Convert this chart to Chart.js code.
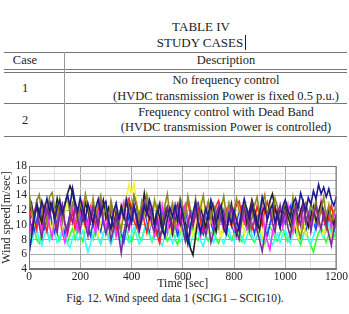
<!DOCTYPE html>
<html>
<head>
<meta charset="utf-8">
<script src="https://cdn.jsdelivr.net/npm/chart.js@4"></script>
<style>
    body { margin: 0; background: #fff; width: 349px; height: 314px; position: relative; overflow: hidden;
           font-family: 'Liberation Serif', 'DejaVu Serif', serif; color: #222; }
    .t { position: absolute; line-height: 14px; font-size: 12.5px; white-space: nowrap; }
    .c { transform: translateX(-50%); }
    .rule { position: absolute; left: 4px; width: 343px; height: 1px; background: #777; }
    #chart-wrap { position: absolute; left: 0; top: 150px; width: 349px; height: 141px; }
</style>
</head>
<body>
<div class="t c" style="left:201px; top:20px; font-size:13px;">TABLE IV</div>
<div class="t c" style="left:200px; top:36px; font-size:13px;">STUDY CASES</div>
<div style="position:absolute; left:245px; top:35px; width:1px; height:15px; background:#222;"></div>

<div class="rule" style="top:52px;"></div>
<div class="rule" style="top:69px;"></div>
<div class="rule" style="top:72px;"></div>
<div class="rule" style="top:103px;"></div>
<div class="rule" style="top:136px;"></div>
<div style="position:absolute; left:64px; top:52px; width:1px; height:85px; background:#999;"></div>

<div class="t c" style="left:25px; top:53px;">Case</div>
<div class="t c" style="left:226px; top:53px;">Description</div>
<div class="t c" style="left:25px; top:81px;">1</div>
<div class="t c" style="left:226px; top:73px;">No frequency control</div>
<div class="t c" style="left:226px; top:89px;">(HVDC transmission Power is fixed 0.5 p.u.)</div>
<div class="t c" style="left:25px; top:113px;">2</div>
<div class="t c" style="left:226px; top:105px;">Frequency control with Dead Band</div>
<div class="t c" style="left:226px; top:120px;">(HVDC transmission Power is controlled)</div>

<div id="chart-wrap"><canvas id="wind-chart" width="349" height="141"></canvas></div>

<div class="t c" style="left:175px; top:291px; font-size:11.5px;">Fig. 12. Wind speed data 1 (SCIG1 &#8211; SCIG10).</div>

<script>
// time axis [sec], one sample every 10 s
const timeSec = [
    0, 10, 20, 30, 40, 50, 60, 70, 80, 90,
    100, 110, 120, 130, 140, 150, 160, 170, 180, 190,
    200, 210, 220, 230, 240, 250, 260, 270, 280, 290,
    300, 310, 320, 330, 340, 350, 360, 370, 380, 390,
    400, 410, 420, 430, 440, 450, 460, 470, 480, 490,
    500, 510, 520, 530, 540, 550, 560, 570, 580, 590,
    600, 610, 620, 630, 640, 650, 660, 670, 680, 690,
    700, 710, 720, 730, 740, 750, 760, 770, 780, 790,
    800, 810, 820, 830, 840, 850, 860, 870, 880, 890,
    900, 910, 920, 930, 940, 950, 960, 970, 980, 990,
    1000, 1010, 1020, 1030, 1040, 1050, 1060, 1070, 1080, 1090,
    1100, 1110, 1120, 1130, 1140, 1150, 1160, 1170, 1180, 1190,
    1200
];

// wind speed [m/sec], SCIG1 - SCIG10
const scigNavy = [
    6.0, 8.4, 10.9, 12.6, 11.3, 13.2, 12.0, 13.6, 11.8, 12.9,
    10.7, 12.4, 13.3, 11.5, 12.8, 14.1, 12.6, 15.0, 13.1, 11.9,
    13.7, 12.2, 10.8, 12.9, 11.6, 10.1, 12.3, 13.5, 11.4, 12.7,
    13.2, 10.6, 9.4, 11.8, 12.9, 10.9, 12.1, 11.0, 13.3, 11.6,
    10.3, 12.5, 11.2, 9.3, 10.8, 12.6, 11.5, 13.4, 12.2, 10.0,
    11.7, 12.8, 9.6, 8.4, 10.9, 12.3, 11.1, 12.7, 10.5, 13.0,
    11.4, 9.2, 7.4, 9.8, 11.6, 13.1, 10.4, 8.9, 10.7, 12.2,
    11.0, 13.4, 12.3, 10.2, 11.8, 12.7, 9.5, 8.7, 11.3, 10.1,
    12.0, 10.6, 9.3, 11.9, 13.5, 12.1, 10.8, 12.6, 11.2, 9.9,
    11.5, 13.8, 12.4, 10.7, 11.9, 12.8, 10.3, 11.6, 9.7, 12.5,
    13.4, 12.0, 11.1, 12.9, 13.6, 12.2, 14.3, 13.1, 11.9, 13.7,
    12.8, 14.6, 13.5, 15.5, 14.2, 15.1, 13.8, 14.9, 13.4, 12.6,
    13.9
];
const scigPurple = [
    11.2, 9.6, 10.8, 12.7, 9.9, 8.2, 10.5, 12.1, 11.0, 12.9,
    10.6, 9.0, 11.7, 12.8, 10.2, 9.1, 11.5, 10.3, 12.4, 10.8,
    9.2, 11.6, 10.1, 8.5, 10.9, 12.3, 11.1, 9.7, 12.6, 10.4,
    8.8, 10.2, 7.9, 9.6, 11.3, 8.6, 6.2, 8.9, 10.7, 9.5,
    11.8, 12.7, 10.3, 9.4, 11.9, 13.1, 11.4, 12.6, 10.0, 9.1,
    10.8, 8.3, 9.6, 11.7, 12.5, 10.6, 9.3, 11.9, 12.8, 10.9,
    9.4, 7.8, 10.1, 11.6, 9.9, 12.4, 13.0, 11.2, 9.8, 8.6,
    10.3, 7.6, 8.9, 11.5, 12.6, 10.4, 11.9, 9.2, 10.8, 12.3,
    11.0, 9.1, 8.0, 10.6, 12.2, 11.3, 9.5, 12.9, 10.7, 9.3,
    7.9, 6.4, 8.7, 10.9, 12.1, 10.2, 9.0, 11.6, 12.7, 10.5,
    11.8, 9.7, 8.4, 10.6, 12.4, 11.2, 9.9, 12.8, 10.3, 11.5,
    9.1, 11.3, 12.6, 10.8, 9.4, 11.9, 10.2, 8.7, 7.2, 9.6,
    11.0
];
const scigOlive = [
    14.4, 12.1, 10.5, 13.2, 14.1, 11.7, 12.6, 10.2, 13.8, 14.4,
    12.3, 11.0, 13.5, 10.7, 12.8, 14.0, 11.4, 13.0, 12.2, 10.4,
    13.1, 11.8, 14.2, 12.5, 10.9, 13.6, 11.3, 12.7, 14.0, 11.2,
    12.4, 10.1, 13.3, 11.6, 12.9, 10.6, 9.3, 11.9, 13.7, 12.3,
    11.5, 14.0, 12.8, 10.4, 13.2, 11.7, 14.1, 12.5, 10.8, 13.4,
    11.9, 13.0, 10.3, 12.6, 14.2, 11.3, 12.8, 9.6, 11.8, 13.7,
    12.6, 10.9, 13.9, 12.1, 11.0, 13.5, 10.2, 12.4, 14.0, 11.6,
    13.1, 10.8, 12.7, 11.4, 9.7, 12.3, 13.9, 11.2, 12.9, 10.5,
    11.8, 13.6, 12.0, 10.7, 13.3, 11.5, 9.1, 10.9, 12.6, 13.8,
    11.4, 12.9, 14.1, 10.8, 12.5, 11.2, 13.6, 12.4, 10.3, 11.9,
    13.2, 12.0, 10.6, 13.7, 11.3, 9.4, 8.2, 10.1, 12.4, 11.0,
    12.9, 11.6, 13.4, 10.5, 12.2, 13.8, 11.1, 12.7, 10.4, 11.8,
    12.5
];
const scigBlack = [
    11.6, 12.9, 10.8, 13.1, 11.5, 10.2, 12.4, 11.0, 13.3, 12.1,
    11.3, 13.6, 12.2, 10.9, 12.8, 14.2, 15.3, 14.4, 12.5, 11.2,
    12.6, 10.7, 13.0, 11.9, 10.4, 12.7, 11.5, 9.8, 12.2, 13.4,
    10.9, 12.3, 11.1, 9.5, 11.8, 10.3, 12.6, 11.4, 10.0, 12.8,
    11.7, 13.9, 12.5, 10.6, 11.9, 14.3, 12.0, 10.8, 11.6, 9.9,
    12.4, 11.0, 9.2, 10.7, 12.1, 11.3, 8.8, 10.5, 11.9, 10.1,
    12.3, 10.6, 8.4, 6.8, 5.9, 8.5, 10.9, 12.2, 11.0, 9.6,
    11.5, 12.7, 10.3, 9.1, 11.4, 12.5, 10.8, 9.4, 11.2, 12.9,
    10.6, 8.7, 9.8, 11.6, 12.4, 10.2, 11.8, 13.4, 12.1, 10.5,
    9.3, 11.7, 12.6, 11.1, 13.2, 14.2, 12.3, 10.9, 12.0, 11.4,
    12.8, 11.3, 9.9, 11.5, 12.7, 10.6, 11.9, 13.1, 11.0, 9.7,
    11.2, 12.5, 10.4, 11.8, 13.0, 11.6, 10.3, 12.2, 11.1, 10.0,
    11.4
];
const scigMagenta = [
    10.1, 8.7, 11.9, 12.8, 10.4, 9.2, 11.6, 12.5, 9.8, 8.3,
    10.6, 12.2, 11.0, 8.9, 7.6, 9.4, 11.3, 12.6, 10.5, 9.1,
    11.8, 13.0, 10.7, 9.5, 12.1, 10.2, 8.8, 11.4, 12.7, 10.9,
    9.6, 11.2, 12.9, 10.6, 8.4, 9.9, 11.7, 13.1, 11.0, 9.3,
    10.8, 12.4, 11.1, 9.0, 10.5, 12.2, 13.4, 11.6, 10.0, 8.6,
    11.3, 9.7, 12.6, 10.4, 8.9, 11.5, 12.9, 10.2, 9.4, 11.8,
    10.5, 12.7, 11.2, 9.1, 10.8, 12.3, 10.0, 8.5, 10.9, 12.0,
    13.2, 11.4, 9.8, 10.6, 12.5, 11.1, 9.3, 10.7, 12.8, 11.5,
    9.9, 8.4, 10.3, 12.1, 11.0, 9.6, 11.8, 12.9, 10.6, 9.2,
    10.8, 12.3, 9.4, 7.8, 6.6, 8.9, 10.5, 12.0, 11.3, 9.7,
    11.6, 12.8, 10.2, 9.0, 11.4, 13.0, 11.9, 10.1, 12.4, 11.2,
    9.5, 11.1, 12.7, 10.3, 13.3, 11.8, 10.4, 12.2, 9.6, 11.7,
    10.6
];
const scigRed = [
    10.6, 12.2, 11.0, 9.4, 11.7, 12.8, 10.3, 9.1, 11.5, 12.4,
    10.8, 9.6, 11.9, 12.6, 10.1, 8.7, 10.4, 11.8, 9.5, 10.9,
    12.3, 11.1, 9.8, 10.6, 12.5, 11.4, 9.9, 12.0, 13.4, 12.7,
    11.3, 10.2, 12.1, 11.0, 9.3, 10.8, 12.4, 11.2, 12.9, 13.6,
    12.2, 10.5, 9.7, 11.3, 12.6, 10.4, 8.9, 11.0, 12.3, 10.1,
    8.6, 7.5, 9.8, 11.4, 12.2, 10.7, 9.6, 11.9, 12.8, 10.9,
    11.6, 12.7, 13.1, 11.4, 9.9, 11.2, 12.5, 10.3, 9.0, 11.7,
    12.9, 11.5, 10.2, 12.6, 13.3, 11.8, 10.4, 12.1, 11.0, 9.8,
    11.4, 12.8, 13.2, 11.6, 10.3, 12.2, 11.1, 9.4, 10.7, 12.5,
    11.3, 9.9, 12.0, 13.1, 11.7, 10.5, 12.6, 11.2, 9.7, 11.9,
    12.4, 10.8, 11.6, 12.9, 11.3, 10.0, 11.5, 12.3, 13.0, 11.4,
    10.2, 11.8, 12.6, 10.9, 12.1, 11.0, 9.6, 11.3, 12.7, 10.8,
    9.9
];
const scigYellow = [
    13.4, 11.8, 10.2, 12.9, 11.3, 9.6, 11.0, 12.7, 10.5, 9.1,
    11.6, 12.4, 10.0, 9.0, 11.5, 13.2, 12.1, 10.4, 8.9, 10.7,
    12.3, 11.1, 9.4, 10.8, 12.6, 11.7, 10.1, 8.6, 10.3, 12.0,
    11.4, 9.8, 8.7, 10.6, 12.2, 11.0, 9.3, 11.9, 13.6, 15.5,
    14.2, 15.6, 13.1, 11.5, 10.2, 12.4, 11.3, 9.7, 10.9, 12.8,
    11.6, 10.3, 12.9, 11.7, 9.9, 8.8, 10.5, 12.2, 11.0, 9.4,
    10.7, 12.5, 11.3, 9.6, 8.5, 10.2, 11.8, 13.1, 11.9, 10.4,
    9.2, 10.8, 12.6, 11.4, 9.9, 8.3, 10.0, 11.6, 12.9, 10.7,
    9.5, 11.2, 12.4, 10.6, 8.7, 9.9, 11.7, 13.3, 12.0, 10.8,
    9.6, 8.4, 10.3, 11.9, 12.7, 11.1, 9.4, 10.6, 12.2, 11.0,
    13.0, 11.4, 9.8, 8.9, 10.4, 8.2, 9.1, 10.6, 8.5, 9.7,
    11.3, 10.2, 12.4, 11.0, 9.2, 8.6, 10.1, 9.3, 8.0, 10.5,
    11.2
];
const scigBlue = [
    10.3, 11.7, 9.2, 10.6, 12.1, 11.0, 9.5, 10.8, 12.3, 10.1,
    9.0, 10.7, 11.9, 10.4, 8.8, 9.9, 11.4, 12.2, 10.6, 9.3,
    10.9, 12.0, 11.2, 9.6, 8.5, 10.3, 11.8, 10.0, 9.1, 11.3,
    12.4, 10.8, 9.4, 10.5, 11.9, 10.2, 8.9, 7.6, 9.7, 11.1,
    10.4, 12.3, 11.0, 9.3, 10.7, 12.0, 10.5, 9.2, 11.6, 10.1,
    8.8, 10.2, 11.5, 12.4, 10.9, 9.6, 11.2, 10.0, 8.6, 9.9,
    11.4, 12.1, 10.3, 9.0, 10.8, 11.9, 10.6, 9.4, 8.7, 10.5,
    11.7, 10.1, 9.2, 10.9, 12.2, 11.3, 9.8, 10.6, 11.8, 10.0,
    9.1, 10.4, 11.9, 12.5, 10.8, 9.5, 11.1, 10.2, 8.8, 10.7,
    12.0, 10.9, 9.3, 8.6, 10.1, 11.5, 12.3, 10.7, 9.6, 11.0,
    10.2, 11.8, 12.6, 10.5, 9.1, 10.8, 11.6, 9.9, 8.9, 10.6,
    11.9, 10.3, 9.4, 11.2, 12.4, 10.7, 9.5, 11.1, 10.0, 9.2,
    10.4
];
const scigCyan = [
    8.2, 7.5, 8.9, 9.4, 8.0, 7.2, 8.6, 9.3, 7.8, 8.4,
    9.0, 7.6, 8.1, 9.5, 8.7, 7.4, 6.9, 8.3, 9.1, 7.9,
    8.5, 9.2, 7.7, 6.3, 7.4, 8.8, 9.6, 8.2, 7.5, 8.9,
    9.3, 8.1, 7.3, 8.6, 9.8, 8.4, 7.7, 9.0, 8.3, 7.6,
    8.8, 9.7, 8.5, 7.4, 8.1, 9.4, 10.2, 8.9, 7.8, 8.3,
    9.1, 7.9, 7.2, 8.5, 9.5, 8.6, 7.5, 8.2, 9.0, 7.7,
    8.4, 9.3, 8.0, 7.3, 8.7, 9.6, 8.9, 7.8, 7.1, 8.5,
    9.2, 8.3, 7.6, 8.8, 9.9, 8.1, 7.4, 8.6, 9.4, 8.0,
    7.7, 8.9, 9.5, 8.2, 7.5, 8.4, 9.7, 8.6, 7.9, 8.3,
    9.0, 7.8, 8.5, 9.6, 8.1, 7.3, 8.0, 8.8, 7.6, 8.7,
    9.3, 8.2, 7.5, 8.9, 9.8, 8.4, 7.9, 8.6, 9.1, 8.0,
    7.4, 8.5, 9.6, 10.3, 9.0, 8.2, 9.4, 10.1, 8.7, 9.3,
    8.5
];
const scigGreen = [
    9.2, 8.3, 9.8, 8.0, 7.5, 8.9, 10.1, 9.0, 8.2, 9.4,
    10.3, 8.8, 7.9, 9.1, 8.4, 7.6, 8.7, 9.5, 8.1, 9.9,
    8.6, 7.7, 9.3, 10.2, 8.9, 8.0, 9.6, 8.3, 7.4, 8.8,
    9.7, 8.5, 7.8, 9.0, 10.4, 9.2, 8.1, 8.7, 9.4, 8.2,
    7.6, 8.9, 9.8, 8.4, 7.9, 9.3, 10.0, 8.6, 7.7, 9.1,
    8.5, 9.6, 10.3, 8.8, 7.8, 8.4, 9.2, 8.0, 7.3, 8.9,
    9.7, 8.2, 7.6, 8.8, 9.5, 8.3, 7.9, 9.0, 10.1, 8.6,
    7.8, 8.7, 9.4, 8.1, 7.5, 8.6, 9.9, 9.2, 8.4, 7.9,
    8.8, 9.6, 8.3, 7.7, 9.0, 10.2, 8.9, 8.1, 7.6, 8.5,
    9.3, 8.0, 7.4, 8.7, 9.8, 9.1, 8.2, 7.8, 8.9, 9.5,
    8.4, 7.7, 9.0, 10.5, 9.2, 8.1, 7.3, 8.6, 9.4, 8.0,
    7.2, 6.3, 7.8, 8.9, 9.7, 8.5, 7.6, 8.8, 9.9, 8.3,
    9.1
];

// first entry ends up on top
const seriesList = [
    { name: 'SCIG1', values: scigNavy, color: '#1c1c8a' },
    { name: 'SCIG2', values: scigPurple, color: '#7a2c9e' },
    { name: 'SCIG3', values: scigOlive, color: '#8c8a22' },
    { name: 'SCIG4', values: scigBlack, color: '#222222' },
    { name: 'SCIG5', values: scigMagenta, color: '#ff33ff' },
    { name: 'SCIG6', values: scigRed, color: '#ff2222' },
    { name: 'SCIG7', values: scigYellow, color: '#f5f533' },
    { name: 'SCIG8', values: scigBlue, color: '#2244ff' },
    { name: 'SCIG9', values: scigCyan, color: '#33ffff' },
    { name: 'SCIG10', values: scigGreen, color: '#33ff33' }
];

// frame round the plot area
const frameBox = {
    id: 'frameBox',
    afterDraw(chart) {
        const a = chart.chartArea;
        const ctx = chart.ctx;
        ctx.save();
        ctx.strokeStyle = '#777';
        ctx.lineWidth = 1;
        ctx.strokeRect(a.left + 0.5, a.top + 0.5, a.right - a.left - 1, a.bottom - a.top - 1);
        ctx.restore();
    }
};

Chart.defaults.font.family = "'Liberation Serif', serif";
Chart.defaults.color = '#222';

new Chart(document.getElementById('wind-chart'), {
    type: 'line',
    data: {
        datasets: seriesList.map(s => ({
            label: s.name,
            data: timeSec.map((t, i) => ({ x: t, y: s.values[i] })),
            borderColor: s.color,
            backgroundColor: s.color,
            borderWidth: 1.6,
            pointRadius: 0,
            tension: 0,
            fill: false
        }))
    },
    options: {
        responsive: false,
        animation: false,
        devicePixelRatio: 1,
        layout: { padding: { top: 16, right: 10, left: 0, bottom: 0 } },
        plugins: {
            legend: { display: false },
            tooltip: { enabled: false }
        },
        scales: {
            x: {
                type: 'linear',
                min: 0,
                max: 1200,
                afterFit(scale) { scale.height = 22; },
                ticks: {
                    stepSize: 100,
                    autoSkip: false,
                    maxRotation: 0,
                    padding: 1,
                    font: { size: 11.5 },
                    callback: v => (v % 200 === 0 ? v : '')
                },
                grid: {
                    drawTicks: false,
                    color: ctx => (ctx.tick && ctx.tick.value % 200 === 0 ? '#a8a8a8' : '#dedede')
                },
                border: { color: '#777' },
                title: {
                    display: true,
                    text: 'Time [sec]',
                    font: { size: 12 },
                    padding: { top: 0, bottom: 0 }
                }
            },
            y: {
                min: 4,
                max: 18,
                afterFit(scale) { scale.width = 29; },
                ticks: {
                    stepSize: 1,
                    autoSkip: false,
                    padding: 2,
                    font: { size: 11.5 },
                    callback: v => (v % 2 === 0 ? v : '')
                },
                grid: {
                    drawTicks: false,
                    color: ctx => (ctx.tick && ctx.tick.value % 2 === 0 ? '#a8a8a8' : '#dedede')
                },
                border: { color: '#777' },
                title: {
                    display: true,
                    text: 'Wind speed[m/sec]',
                    font: { size: 12 },
                    padding: { top: 0, bottom: 0 }
                }
            }
        }
    },
    plugins: [frameBox]
});
</script>
</body>
</html>
